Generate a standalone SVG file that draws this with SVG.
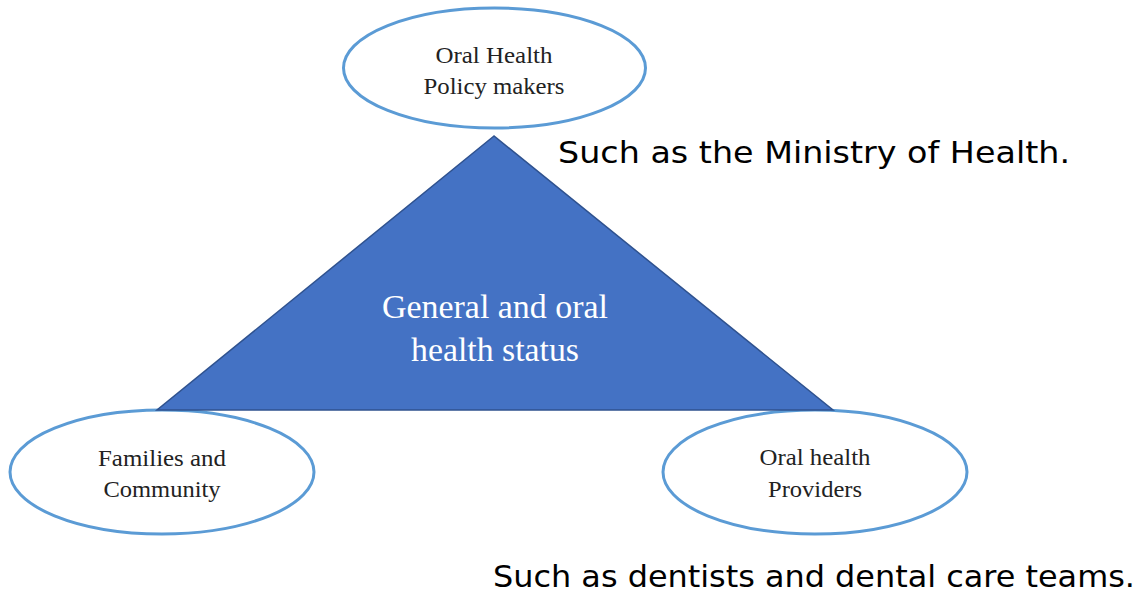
<svg xmlns="http://www.w3.org/2000/svg" width="1145" height="593" viewBox="0 0 1145 593">
<style>
.ell{fill:#fff;stroke:#5B9BD5;stroke-width:3}
.lbl{font-family:"Liberation Serif","Times New Roman",serif;font-size:24px;fill:#222;text-anchor:middle}
.tri{font-family:"Liberation Serif","Times New Roman",serif;font-size:34px;fill:#fff;text-anchor:middle}
.note{font-family:"DejaVu Sans","Open Sans",sans-serif;font-size:30px;fill:#000}
</style>
<rect width="1145" height="593" fill="#fff"/>
<g id="policy">
<ellipse class="ell" cx="494.5" cy="68" rx="151" ry="60"/>
<text class="lbl" x="494" y="63" textLength="117" lengthAdjust="spacingAndGlyphs">Oral Health</text>
<text class="lbl" x="494" y="94" textLength="141" lengthAdjust="spacingAndGlyphs">Policy makers</text>
</g>
<g id="families">
<ellipse class="ell" cx="162" cy="472" rx="152" ry="62"/>
<text class="lbl" x="162" y="466" textLength="128" lengthAdjust="spacingAndGlyphs">Families and</text>
<text class="lbl" x="162" y="497" textLength="117" lengthAdjust="spacingAndGlyphs">Community</text>
</g>
<g id="providers">
<ellipse class="ell" cx="815" cy="472" rx="152" ry="62"/>
<text class="lbl" x="815" y="465" textLength="111" lengthAdjust="spacingAndGlyphs">Oral health</text>
<text class="lbl" x="815" y="497" textLength="94" lengthAdjust="spacingAndGlyphs">Providers</text>
</g>
<g id="status">
<polygon points="494,136 157,410 833,410" fill="#4472C4" stroke="#2F528F" stroke-width="1.5"/>
<text class="tri" x="495" y="318" textLength="226" lengthAdjust="spacingAndGlyphs">General and oral</text>
<text class="tri" x="495" y="361" textLength="168" lengthAdjust="spacingAndGlyphs">health status</text>
</g>
<g id="connectors"/>
<g id="notes">
<text class="note" x="558" y="163" textLength="512" lengthAdjust="spacingAndGlyphs">Such as the Ministry of Health.</text>
<text class="note" x="493" y="587" textLength="642" lengthAdjust="spacingAndGlyphs">Such as dentists and dental care teams.</text>
</g>
</svg>
